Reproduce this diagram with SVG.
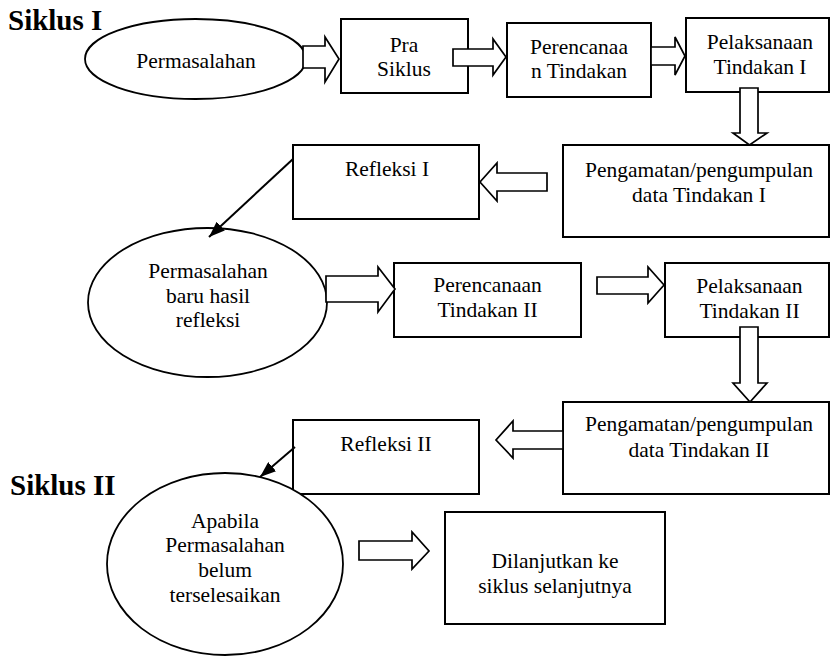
<svg xmlns="http://www.w3.org/2000/svg" width="831" height="656" viewBox="0 0 831 656">
<style>
  .box { fill: #fff; stroke: #000; stroke-width: 2; }
  .ell { fill: #fff; stroke: #000; stroke-width: 1.8; }
  .blk { fill: #fff; stroke: #000; stroke-width: 1.7; stroke-linejoin: miter; }
  .line { fill: none; stroke: #000; stroke-width: 2; }
  text { font-family: "Liberation Serif", "Times New Roman", serif; font-size: 21.5px; fill: #000; text-anchor: middle; }
  .title { font-size: 29px; font-weight: bold; text-anchor: start; }
</style>
<defs>
  <marker id="ah" viewBox="0 0 16 12" refX="16" refY="6" markerWidth="16" markerHeight="12" markerUnits="userSpaceOnUse" orient="auto">
    <path d="M0,0 L16,6 L0,12 Z" fill="#000"/>
  </marker>
</defs>
<rect width="831" height="656" fill="#fff"/>

<text class="title" x="8" y="30">Siklus I</text>
<text class="title" x="10" y="495">Siklus II</text>

<g id="n-permasalahan">
  <ellipse class="ell" cx="195.5" cy="59" rx="110.5" ry="40"/>
  <text x="196" y="68">Permasalahan</text>
</g>
<g id="n-prasiklus">
  <rect class="box" x="341" y="19" width="127" height="74"/>
  <text x="404" y="52">Pra</text>
  <text x="404" y="76">Siklus</text>
</g>
<g id="n-perencanaan1">
  <rect class="box" x="507" y="23" width="144" height="74"/>
  <text x="579" y="54">Perencanaa</text>
  <text x="579" y="78">n Tindakan</text>
</g>
<g id="n-pelaksanaan1">
  <rect class="box" x="686" y="18" width="143" height="74"/>
  <text x="760" y="49">Pelaksanaan</text>
  <text x="760" y="74">Tindakan I</text>
</g>
<g id="n-pengamatan1">
  <rect class="box" x="563" y="145" width="266" height="92"/>
  <text x="699" y="177">Pengamatan/pengumpulan</text>
  <text x="699" y="202">data Tindakan I</text>
</g>
<g id="n-refleksi1">
  <rect class="box" x="293" y="145" width="186" height="74"/>
  <text x="387" y="176">Refleksi I</text>
</g>
<g id="n-permasalahan-baru">
  <ellipse class="ell" cx="207.5" cy="302.5" rx="119.5" ry="74.5"/>
  <text x="208" y="278">Permasalahan</text>
  <text x="208" y="303">baru hasil</text>
  <text x="208" y="327">refleksi</text>
</g>
<g id="n-perencanaan2">
  <rect class="box" x="394" y="263" width="187" height="74"/>
  <text x="487.5" y="292">Perencanaan</text>
  <text x="487.5" y="317">Tindakan II</text>
</g>
<g id="n-pelaksanaan2">
  <rect class="box" x="665" y="263" width="164" height="74"/>
  <text x="749.5" y="293">Pelaksanaan</text>
  <text x="749.5" y="318">Tindakan II</text>
</g>
<g id="n-pengamatan2">
  <rect class="box" x="563" y="402" width="266" height="92"/>
  <text x="699" y="431">Pengamatan/pengumpulan</text>
  <text x="699" y="457">data Tindakan II</text>
</g>
<g id="n-refleksi2">
  <rect class="box" x="293" y="420" width="186" height="74"/>
  <text x="386" y="451">Refleksi II</text>
</g>
<g id="n-apabila">
  <ellipse class="ell" cx="225" cy="564" rx="118" ry="91"/>
  <text x="225" y="528">Apabila</text>
  <text x="225" y="552">Permasalahan</text>
  <text x="225" y="577">belum</text>
  <text x="225" y="602">terselesaikan</text>
</g>
<g id="n-dilanjutkan">
  <rect class="box" x="445" y="512" width="220" height="112"/>
  <text x="555" y="568">Dilanjutkan ke</text>
  <text x="555" y="593">siklus selanjutnya</text>
</g>

<g id="connectors">
  <path class="blk" d="M303,46 H325 V37 L339,59 L325,82 V68 H303 Z"/>
  <path class="blk" d="M453,49 H493 V39 L506,57 L493,75 V66 H453 Z"/>
  <path class="blk" d="M651,47 H675 V37 L685,56 L675,75 V65 H651 Z"/>
  <path class="blk" d="M740,88 V133 H733 L749.5,145 L767,133 H758 V88 Z"/>
  <path class="blk" d="M547,173 H497 V163 L480,182 L497,201 V191 H547 Z"/>
  <line class="line" x1="293" y1="159" x2="209" y2="237" marker-end="url(#ah)"/>
  <path class="blk" d="M326,276 H378 V267 L395,289 L378,312 V302 H326 Z"/>
  <path class="blk" d="M597,277 H648 V267 L664,285 L648,303 V294 H597 Z"/>
  <path class="blk" d="M740,327 V383 H733 L750,402 L767,383 H758 V327 Z"/>
  <path class="blk" d="M563,431 H513 V421 L496,440 L513,458 V449 H563 Z"/>
  <line class="line" x1="295" y1="447" x2="260" y2="477" marker-end="url(#ah)"/>
  <path class="blk" d="M359,541 H412 V532 L429,551 L412,569 V560 H359 Z"/>
</g>
</svg>
